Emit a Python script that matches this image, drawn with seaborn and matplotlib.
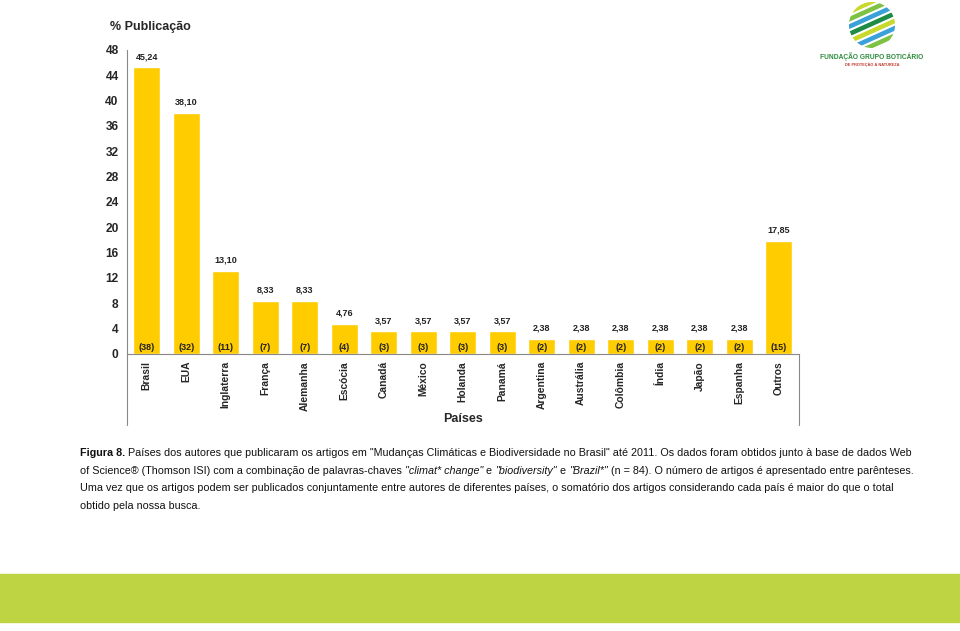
import matplotlib
matplotlib.use("Agg")
import matplotlib.pyplot as plt
import seaborn as sns
import numpy as np
import pandas as pd
from matplotlib.lines import Line2D
from matplotlib.patches import Rectangle, Circle, Polygon
from matplotlib.offsetbox import TextArea, HPacker, AnchoredOffsetbox

countries = ["Brasil", "EUA", "Inglaterra", "França", "Alemanha", "Escócia", "Canadá",
             "México", "Holanda", "Panamá", "Argentina", "Austrália", "Colômbia", "Índia",
             "Japão", "Espanha", "Outros"]
percents = [45.24, 38.10, 13.10, 8.33, 8.33, 4.76, 3.57, 3.57, 3.57, 3.57,
            2.38, 2.38, 2.38, 2.38, 2.38, 2.38, 17.85]
counts = [38, 32, 11, 7, 7, 4, 3, 3, 3, 3, 2, 2, 2, 2, 2, 2, 15]
yticks = list(range(0, 49, 4))

caption_lines = [
    [("Figura 8.", True), (" Países dos autores que publicaram os artigos em \"Mudanças Climáticas e Biodiversidade no Brasil\" até 2011. Os dados foram obtidos junto à base de dados Web", False)],
    [("of Science® (Thomson ISI) com a combinação de palavras-chaves ", False), ("\"climat* change\"", "i"), (" e ", False), ("\"biodiversity\"", "i"), (" e ", False), ("\"Brazil*\"", "i"), (" (n = 84). O número de artigos é apresentado entre parênteses.", False)],
    [("Uma vez que os artigos podem ser publicados conjuntamente entre autores de diferentes países, o somatório dos artigos considerando cada país é maior do que o total", False)],
    [("obtido pela nossa busca.", False)],
]

df = pd.DataFrame({"country": countries, "pct": percents, "n": counts})

sns.set_style("white")
plt.rcParams['font.family'] = ['Liberation Sans', 'DejaVu Sans']

fig = plt.figure(figsize=(9.6, 6.31), dpi=100)
W, H = 960, 631
ax = fig.add_axes([127 / W, (H - 354) / H, (798.5 - 127) / W, 304 / H])

bar_color = "#FFCC00"
sns.barplot(data=df, x="country", y="pct", color=bar_color, saturation=1, width=0.68, ax=ax)
ax.set_xlim(-0.5, len(countries) - 0.5)
ax.set_ylim(0, 48)
ax.set_yticks(yticks)
ax.set_yticklabels([str(t) for t in yticks], fontsize=8.6, fontweight="bold")
ax.set_xlabel("")
ax.set_ylabel("")
ax.set_xticks(range(len(countries)))
ax.set_xticklabels(countries, rotation=90, fontsize=7.4, fontweight="bold", va="top")
ax.tick_params(axis="x", which="major", length=0, pad=5)
ax.tick_params(axis="y", which="major", length=4, width=0.8, color="#888888", direction="out", pad=2)
ax.set_xticks(np.arange(-0.5, len(countries), 1.0), minor=True)
ax.tick_params(axis="x", which="minor", length=37, width=0.8, color="#888888", direction="out")
for s in ["top", "right"]:
    ax.spines[s].set_visible(False)
for s in ["left", "bottom"]:
    ax.spines[s].set_color("#888888")
    ax.spines[s].set_linewidth(0.8)

for i, (p, n) in enumerate(zip(percents, counts)):
    ax.text(i, p + 1.0, f"{p:.2f}".replace(".", ","), ha="center", va="bottom",
            fontsize=6.5, fontweight="bold", color="#222222")
    ax.text(i, 1.1, f"({n})", ha="center", va="center", fontsize=6.5,
            fontweight="bold", color="#222222")

# extended axis lines
fig.add_artist(Line2D([127 / W, 127 / W], [(H - 354) / H, (H - 425) / H], color="#888888", lw=0.8))
fig.add_artist(Line2D([799 / W, 799 / W], [(H - 354) / H, (H - 425) / H], color="#888888", lw=0.8))

fig.text(110 / W, (H - 27) / H, "% Publicação", fontsize=9, fontweight="bold", va="center", ha="left")
fig.text(463 / W, (H - 419) / H, "Países", fontsize=9, fontweight="bold", va="center", ha="center")

# caption
cap_family = ['Liberation Sans', 'DejaVu Sans']
y0 = 453
for k, line in enumerate(caption_lines):
    parts = []
    for txt, style in line:
        props = dict(fontsize=7.75, family=cap_family, color="#111111")
        if style is True:
            props["fontweight"] = "bold"
        elif style == "i":
            props["fontstyle"] = "italic"
        parts.append(TextArea(txt, textprops=props))
    box = HPacker(children=parts, align="baseline", pad=0, sep=0)
    ab = AnchoredOffsetbox(loc="center left", child=box, pad=0, frameon=False,
                           bbox_to_anchor=(80 / W, (H - (y0 + 17.7 * k)) / H),
                           bbox_transform=fig.transFigure, borderpad=0)
    fig.add_artist(ab)

# green band at bottom
fig.add_artist(Rectangle((0, (H - 622) / H), 1, 48 / H, transform=fig.transFigure,
                         color="#BFD443", zorder=0))

# logo
lax = fig.add_axes([848 / W, (H - 48) / H, 48 / W, 46 / H])
lax.set_xlim(-1, 1)
lax.set_ylim(-1, 1)
lax.set_aspect("equal")
lax.axis("off")
circ = Circle((0, 0), 1, transform=lax.transData)
stripe_colors = ["#1E8C45", "#7DC242", "#3AA0D8", "#C8D92B", "#1E8C45", "#3AA0D8", "#7DC242", "#C8D92B", "#3AA0D8"]
for j, c in enumerate(stripe_colors):
    off = -1.3 + j * 0.32
    poly = Polygon([(-2, off - 0.9), (2, off + 0.9), (2, off + 1.05), (-2, off - 0.75)],
                   closed=True, color=c)
    lax.add_patch(poly)
    poly.set_clip_path(circ)
fig.text(872 / W, (H - 57) / H, "FUNDAÇÃO GRUPO BOTICÁRIO", fontsize=4.8, fontweight="bold",
         color="#2E8B3E", ha="center", va="center")
fig.text(872 / W, (H - 65) / H, "DE PROTEÇÃO À NATUREZA", fontsize=2.8, fontweight="bold",
         color="#C0392B", ha="center", va="center")

fig.savefig("out.png", dpi=100)
